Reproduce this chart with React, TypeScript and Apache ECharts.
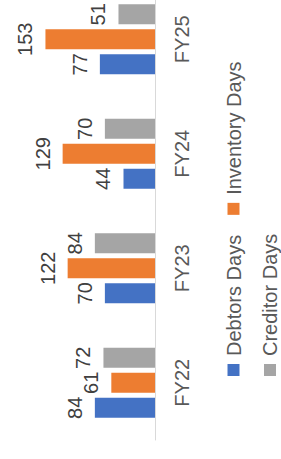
import React, { useEffect, useRef } from "react";
import * as echarts from "echarts";

const categories = ["FY22", "FY23", "FY24", "FY25"];
const debtorsDays = [84, 70, 44, 77];
const inventoryDays = [61, 122, 129, 153];
const creditorDays = [72, 84, 70, 51];
const seriesNames = ["Debtors Days", "Inventory Days", "Creditor Days"];
const legendRow1 = [seriesNames[0], seriesNames[1]];
const legendRow2 = [seriesNames[2]];

const FONT = "'Liberation Sans', Arial, sans-serif";

export default function App() {
  const ref = useRef<HTMLDivElement>(null);

  useEffect(() => {
    if (!ref.current) return;
    const chart = echarts.init(ref.current, null, { renderer: "svg" });
    const label = {
      show: true,
      position: "top",
      distance: 10,
      color: "#404040",
      fontSize: 20,
      fontFamily: FONT,
    };
    const mk = (name: string, data: number[], color: string) => ({
      name,
      type: "bar",
      data,
      barWidth: 20,
      barGap: "25%",
      itemStyle: { color },
      label,
    });
    const legendBase = {
      left: 83,
      padding: 0,
      itemWidth: 12,
      itemHeight: 12,
      itemGap: 20,
      icon: "rect",
      textStyle: {
        color: "#595959",
        fontSize: 20,
        lineHeight: 19,
        fontFamily: FONT,
        padding: [0, 0, 0, 3],
      },
    };
    chart.setOption({
      animation: false,
      backgroundColor: "#ffffff",
      textStyle: { fontFamily: FONT },
      grid: { left: 19, top: 11.8, width: 458, height: 143.2 },
      legend: [
        { ...legendBase, data: legendRow1, top: 223.5 },
        { ...legendBase, data: legendRow2, top: 260 },
      ],
      xAxis: {
        type: "category",
        data: categories,
        axisLine: { lineStyle: { color: "#d9d9d9", width: 1 } },
        axisTick: { show: false },
        axisLabel: { color: "#595959", fontSize: 20, margin: 17, fontFamily: FONT },
      },
      yAxis: {
        type: "value",
        min: 0,
        max: 200,
        show: false,
        splitLine: { show: false },
      },
      series: [
        mk(seriesNames[0], debtorsDays, "#4472C4"),
        mk(seriesNames[1], inventoryDays, "#ED7D31"),
        mk(seriesNames[2], creditorDays, "#A5A5A5"),
      ],
    });
    return () => chart.dispose();
  }, []);

  return (
    <div
      style={{
        position: "fixed",
        left: 0,
        top: 0,
        width: 281,
        height: 459,
        overflow: "hidden",
        background: "#ffffff",
      }}
    >
      <div
        ref={ref}
        style={{
          position: "absolute",
          left: 0,
          top: 0,
          width: 480,
          height: 281,
          transformOrigin: "0 0",
          transform: "translate(0px, 459px) rotate(-90deg)",
        }}
      />
    </div>
  );
}
